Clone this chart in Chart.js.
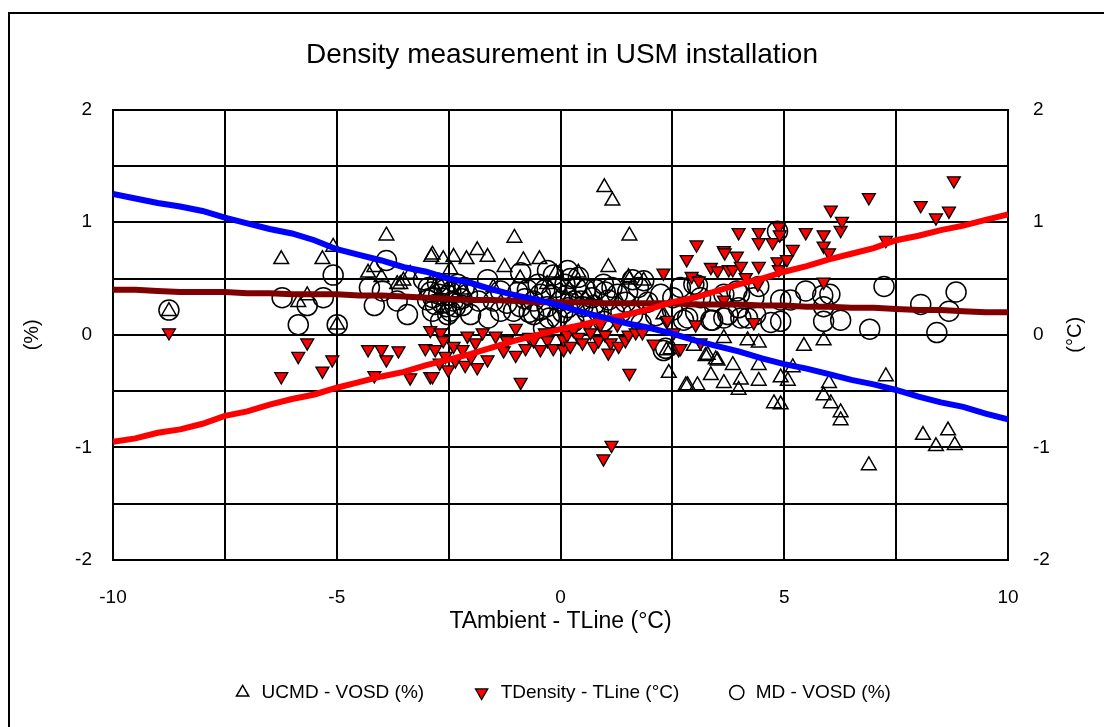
<!DOCTYPE html>
<html>
<head>
<meta charset="utf-8">
<title>Density measurement in USM installation</title>
<script src="https://cdn.jsdelivr.net/npm/chart.js@4.4.1/dist/chart.umd.min.js"></script>
<style>
  html, body { margin: 0; padding: 0; background: #fff; }
  #wrap { width: 1104px; height: 727px; }
</style>
</head>
<body>
<div id="wrap"><canvas id="chart"></canvas></div>
<script>
// ── DATA ──────────────────────────────────────────────────
const chartTitle = 'Density measurement in USM installation';
const xTitle = 'TAmbient - TLine (°C)';
const yTitle = '(%)';
const y2Title = '(°C)';
const seriesNames = ['UCMD - VOSD (%)', 'TDensity - TLine (°C)', 'MD - VOSD (%)'];

// UCMD - VOSD (%)  (open triangles)
const ucmdPoints = [
  [-8.75, 0.21], [-6.24, 0.67], [-5.86, 0.29], [-5.66, 0.35], [-5.32, 0.67], [-5.08, 0.78],
  [-4.99, 0.09], [-4.30, 0.55], [-4.16, 0.60], [-4.00, 0.51], [-3.89, 0.88], [-3.65, 0.45],
  [-3.58, 0.45], [-3.36, 0.54], [-3.51, 0.48], [-2.89, 0.69], [-2.86, 0.71], [-2.62, 0.67],
  [-2.46, 0.58], [-2.39, 0.69], [-2.10, 0.67], [-1.86, 0.75], [-1.63, 0.69], [-1.25, 0.60],
  [-1.03, 0.86], [-0.83, 0.66], [-0.47, 0.67], [-2.70, 0.45], [-2.20, 0.40], [-1.50, 0.42],
  [-0.90, 0.50], [-0.30, 0.45], [-0.10, 0.55], [0.20, 0.40], [0.40, 0.55], [0.60, 0.35],
  [0.98, 1.31], [1.16, 1.19], [1.54, 0.88], [1.07, 0.60], [1.52, 0.51], [1.30, 0.30],
  [1.54, 0.49], [1.86, 0.48], [2.00, 0.28], [2.30, 0.18],
  [2.37, -0.14], [2.42, -0.34], [2.46, -0.13], [2.80, -0.45], [2.84, -0.45], [2.98, -0.10],
  [3.06, -0.45], [3.24, -0.19], [3.29, -0.18], [3.36, -0.36], [3.47, -0.22], [3.51, -0.23],
  [3.65, -0.43], [3.65, -0.03], [3.85, -0.27], [3.98, -0.49], [4.03, -0.40], [4.18, -0.05],
  [4.43, -0.07], [4.43, -0.27], [4.43, -0.41], [4.77, -0.61], [4.92, -0.62], [4.92, -0.38],
  [5.08, -0.41], [5.19, -0.29], [5.44, -0.10], [5.88, -0.05], [5.88, -0.54], [6.00, -0.43],
  [6.04, -0.61], [6.26, -0.69], [6.26, -0.76], [6.89, -1.16], [7.27, -0.37], [8.10, -0.89],
  [8.39, -0.99], [8.66, -0.85], [8.81, -0.98]
];

// TDensity - TLine (°C)  (red inverted triangles)
const tdensityPoints = [
  [-8.75, 0.02], [-6.24, -0.37], [-5.86, -0.19], [-5.66, -0.07], [-5.32, -0.32], [-5.10, -0.22],
  [-4.30, -0.13], [-4.16, -0.36], [-4.00, -0.13], [-3.89, -0.22], [-3.62, -0.14], [-3.36, -0.38],
  [-3.02, -0.12], [-2.91, -0.37], [-2.91, 0.04], [-2.86, -0.37], [-2.80, -0.13], [-2.70, -0.25],
  [-2.68, 0.02], [-2.62, -0.05], [-2.57, -0.19], [-2.51, -0.31], [-2.39, -0.10], [-2.35, -0.23],
  [-2.19, -0.13], [-2.13, -0.27], [-2.08, -0.01], [-2.00, -0.20], [-1.90, -0.07], [-1.86, -0.29],
  [-1.74, 0.02], [-1.63, -0.22], [-1.45, -0.01], [-1.27, -0.14], [-1.20, -0.05], [-1.00, -0.18],
  [-1.00, 0.06], [-0.89, -0.42], [-0.78, -0.12], [-0.70, -0.02], [-0.60, -0.05], [-0.45, -0.13],
  [-0.35, 0.02], [-0.29, -0.05], [-0.16, -0.12], [0.07, -0.13], [0.07, -0.04], [0.15, 0.00],
  [0.22, -0.10], [0.29, 0.04], [0.40, -0.02], [0.49, -0.07], [0.60, 0.08], [0.67, 0.02],
  [0.75, -0.10], [0.85, -0.05], [0.89, 0.09], [0.96, -1.10], [1.00, 0.00], [1.14, -0.98],
  [1.07, -0.16], [1.12, -0.07], [1.27, 0.09], [1.30, -0.10], [1.45, -0.05], [1.52, 0.00],
  [1.54, -0.34], [1.68, 0.02], [1.83, 0.02], [2.08, -0.08], [2.37, 0.12], [2.39, 0.13],
  [2.53, 0.02], [2.64, -0.13], [2.68, -0.12], [3.02, 0.09], [3.13, -0.07], [2.30, 0.55],
  [2.82, 0.67], [2.93, 0.52], [3.04, 0.80], [3.09, 0.48], [3.36, 0.60], [3.51, 0.57],
  [3.65, 0.75], [3.65, 0.31], [3.67, 0.73], [3.76, 0.58], [3.85, 0.58], [3.94, 0.70],
  [3.98, 0.91], [4.03, 0.61], [4.14, 0.51], [4.32, 0.11], [4.41, 0.45], [4.43, 0.91],
  [4.43, 0.82], [4.43, 0.61], [4.74, 0.82], [4.85, 0.65], [4.88, 0.96], [4.90, 0.89],
  [4.88, 0.58], [5.06, 0.67], [5.19, 0.76], [5.48, 0.91], [5.88, 0.89], [5.88, 0.79],
  [5.88, 0.47], [6.00, 0.73], [6.04, 1.11], [6.26, 0.93], [6.29, 1.01], [6.89, 1.22],
  [7.27, 0.84], [8.05, 1.15], [8.39, 1.04], [8.68, 1.10], [8.79, 1.37]
];

// MD - VOSD (%)  (open circles)
const mdPoints = [
  [-8.75, 0.22], [-6.22, 0.33], [-5.86, 0.09], [-5.66, 0.26], [-5.30, 0.33], [-5.08, 0.53],
  [-4.99, 0.09], [-4.27, 0.42], [-4.16, 0.26], [-3.98, 0.39], [-3.89, 0.66], [-3.65, 0.30],
  [-3.42, 0.18], [-3.06, 0.49], [-2.97, 0.31], [-2.95, 0.42], [-2.90, 0.38], [-2.86, 0.21],
  [-2.85, 0.33], [-2.80, 0.27], [-2.75, 0.46], [-2.72, 0.36], [-2.68, 0.12], [-2.65, 0.28],
  [-2.60, 0.40], [-2.58, 0.44], [-2.55, 0.25], [-2.52, 0.18], [-2.51, 0.35], [-2.46, 0.21],
  [-2.45, 0.38], [-2.40, 0.30], [-2.35, 0.25], [-2.30, 0.45], [-2.28, 0.38], [-2.20, 0.32],
  [-2.19, 0.26], [-2.15, 0.42], [-2.08, 0.36], [-2.01, 0.18], [-1.83, 0.30], [-1.63, 0.49],
  [-1.61, 0.15], [-1.50, 0.30], [-1.34, 0.39], [-1.34, 0.21], [-1.20, 0.28], [-1.05, 0.21],
  [-0.95, 0.38], [-0.90, 0.25], [-0.89, 0.55], [-0.80, 0.32], [-0.74, 0.40], [-0.70, 0.20],
  [-0.60, 0.18], [-0.60, 0.30], [-0.50, 0.45], [-0.45, 0.36], [-0.45, 0.22], [-0.38, 0.06],
  [-0.35, 0.40], [-0.30, 0.25], [-0.29, 0.57], [-0.25, 0.15], [-0.20, 0.35], [-0.16, 0.53],
  [-0.10, 0.42], [-0.07, 0.15], [0.00, 0.30], [0.05, 0.20], [0.10, 0.45], [0.12, 0.35],
  [0.16, 0.57], [0.16, 0.24], [0.22, 0.50], [0.30, 0.30], [0.30, 0.12], [0.35, 0.42],
  [0.40, 0.51], [0.45, 0.30], [0.50, 0.25], [0.56, 0.40], [0.60, 0.20], [0.70, 0.33],
  [0.74, 0.26], [0.80, 0.40], [0.85, 0.20], [0.96, 0.45], [0.96, 0.12], [1.00, 0.38],
  [1.07, 0.31], [1.15, 0.42], [1.20, 0.20], [1.27, 0.36], [1.35, 0.20], [1.45, 0.29],
  [1.50, 0.38], [1.61, 0.49], [1.61, 0.18], [1.74, 0.42], [1.80, 0.10], [1.86, 0.48],
  [1.95, 0.29], [2.13, 0.17], [2.24, 0.36], [2.30, -0.14], [2.35, -0.12], [2.50, 0.22],
  [2.51, 0.33], [2.68, 0.42], [2.75, 0.13], [2.84, 0.15], [2.98, 0.45], [3.02, 0.20],
  [3.06, 0.44], [3.13, 0.33], [3.36, 0.13], [3.40, 0.13], [3.42, 0.30], [3.65, 0.36],
  [3.65, 0.15], [3.74, 0.18], [3.94, 0.39], [3.98, 0.24], [4.00, 0.36], [4.03, 0.15],
  [4.18, 0.15], [4.32, 0.33], [4.36, 0.18], [4.43, 0.43], [4.70, 0.11], [4.85, 0.92],
  [4.92, 0.12], [4.92, 0.31], [5.14, 0.31], [5.48, 0.39], [5.86, 0.35], [5.88, 0.25],
  [5.88, 0.12], [6.02, 0.36], [6.26, 0.13], [6.91, 0.05], [7.23, 0.43], [8.05, 0.27],
  [8.41, 0.02], [8.68, 0.21], [8.84, 0.38]
];

// trend lines, read every 0.5 °C
const lineX = [
  -10, -9.5, -9, -8.5, -8, -7.5, -7, -6.5, -6, -5.5, -5, -4.5, -4, -3.5, -3, -2.5, -2, -1.5, -1, -0.5,
  0, 0.5, 1, 1.5, 2, 2.5, 3, 3.5, 4, 4.5, 5, 5.5, 6, 6.5, 7, 7.5, 8, 8.5, 9, 9.5, 10
];
const blueLine = [
  1.25, 1.21, 1.17, 1.14, 1.10, 1.04, 0.99, 0.94, 0.90, 0.84, 0.76, 0.71, 0.66, 0.60, 0.56, 0.50,
  0.46, 0.40, 0.35, 0.31, 0.26, 0.20, 0.15, 0.10, 0.06, 0.01, -0.05, -0.10, -0.15, -0.21, -0.26,
  -0.30, -0.35, -0.40, -0.44, -0.49, -0.55, -0.60, -0.64, -0.70, -0.75
];
const redLine = [
  -0.95, -0.92, -0.87, -0.84, -0.79, -0.72, -0.68, -0.62, -0.57, -0.53, -0.47, -0.42, -0.37, -0.33,
  -0.27, -0.22, -0.17, -0.11, -0.05, 0.00, 0.05, 0.09, 0.14, 0.18, 0.23, 0.29, 0.33, 0.39, 0.45,
  0.50, 0.56, 0.61, 0.67, 0.72, 0.77, 0.84, 0.88, 0.93, 0.97, 1.02, 1.07
];
const darkRedLine = [
  0.40, 0.40, 0.39, 0.38, 0.38, 0.38, 0.37, 0.37, 0.36, 0.36, 0.36, 0.35, 0.35, 0.34, 0.33, 0.32,
  0.31, 0.31, 0.30, 0.29, 0.29, 0.29, 0.28, 0.28, 0.28, 0.28, 0.27, 0.27, 0.27, 0.26, 0.26, 0.25,
  0.25, 0.24, 0.24, 0.23, 0.22, 0.22, 0.21, 0.20, 0.20
];

// ── HELPERS ───────────────────────────────────────────────
const FONT = 'Liberation Sans, Arial, sans-serif';
const toXY = pts => pts.map(([x, y]) => ({ x, y }));
const lineXY = vals => lineX.map((x, i) => ({ x, y: vals[i] }));

// outer frame + right axis title (Excel style, reads bottom to top)
const framePlugin = {
  id: 'frame',
  beforeDraw(chart) {
    const { ctx } = chart;
    ctx.save();
    ctx.fillStyle = '#fff';
    ctx.fillRect(0, 0, chart.width, chart.height);
    ctx.strokeStyle = '#000';
    ctx.lineWidth = 2;
    ctx.strokeRect(9, 13, chart.width + 20, chart.height + 20);
    ctx.restore();
  },
  afterDraw(chart) {
    const { ctx, chartArea } = chart;
    ctx.save();
    ctx.translate(1075, (chartArea.top + chartArea.bottom) / 2);
    ctx.rotate(-Math.PI / 2);
    ctx.fillStyle = '#000';
    ctx.font = `20px ${FONT}`;
    ctx.textAlign = 'center';
    ctx.textBaseline = 'middle';
    ctx.fillText(y2Title, 0, 0);
    ctx.restore();
  }
};

const yTickLabel = v => Number.isInteger(v) ? v : '';
const xTickLabel = v => (v % 5 === 0) ? v : '';

// ── CHART ─────────────────────────────────────────────────
new Chart(document.getElementById('chart'), {
  type: 'scatter',
  data: {
    datasets: [
      {
        label: seriesNames[0],
        data: toXY(ucmdPoints),
        pointStyle: 'triangle',
        pointRadius: 8.5,
        backgroundColor: 'rgba(0,0,0,0)',
        borderColor: '#000',
        borderWidth: 1.5,
        order: 3
      },
      {
        label: seriesNames[1],
        data: toXY(tdensityPoints),
        pointStyle: 'triangle',
        rotation: 180,
        pointRadius: 7.5,
        backgroundColor: '#FF0000',
        borderColor: '#000',
        borderWidth: 1.3,
        order: 2
      },
      {
        label: seriesNames[2],
        data: toXY(mdPoints),
        pointStyle: 'circle',
        pointRadius: 10,
        backgroundColor: 'rgba(0,0,0,0)',
        borderColor: '#000',
        borderWidth: 1.5,
        order: 4
      },
      {
        label: 'blue',
        data: lineXY(blueLine),
        showLine: true,
        pointRadius: 0,
        borderColor: '#0000FF',
        borderWidth: 6,
        order: 1
      },
      {
        label: 'red',
        data: lineXY(redLine),
        showLine: true,
        pointRadius: 0,
        borderColor: '#FF0000',
        borderWidth: 6,
        order: 1
      },
      {
        label: 'darkred',
        data: lineXY(darkRedLine),
        showLine: true,
        pointRadius: 0,
        borderColor: '#800000',
        borderWidth: 6,
        order: 1
      }
    ]
  },
  options: {
    responsive: true,
    maintainAspectRatio: false,
    animation: false,
    layout: { padding: { left: 20, right: 0, top: 0, bottom: 15 } },
    plugins: {
      title: {
        display: true,
        text: chartTitle,
        color: '#000',
        font: { family: FONT, size: 28, weight: 'normal' },
        padding: { top: 38, bottom: 38 }
      },
      legend: {
        position: 'bottom',
        labels: {
          color: '#000',
          font: { family: FONT, size: 19 },
          usePointStyle: true,
          boxWidth: 19,
          boxHeight: 10,
          padding: 48,
          filter: item => item.datasetIndex < 3,
          sort: (a, b) => a.datasetIndex - b.datasetIndex
        }
      },
      tooltip: { enabled: false }
    },
    scales: {
      x: {
        type: 'linear',
        min: -10,
        max: 10,
        ticks: { stepSize: 2.5, callback: xTickLabel, color: '#000', font: { family: FONT, size: 19 }, padding: 26, maxRotation: 0 },
        grid: { color: '#000', lineWidth: 2, drawTicks: false },
        border: { color: '#000', width: 2 },
        title: { display: true, text: xTitle, color: '#000', font: { family: FONT, size: 23 }, padding: { top: 0, bottom: 0 } },
        afterFit: s => { s.height = 75; }
      },
      y: {
        position: 'left',
        min: -2,
        max: 2,
        ticks: { stepSize: 0.5, callback: yTickLabel, color: '#000', font: { family: FONT, size: 19 }, padding: 21 },
        grid: { color: '#000', lineWidth: 2, drawTicks: false },
        border: { color: '#000', width: 2 },
        title: { display: true, text: yTitle, color: '#000', font: { family: FONT, size: 20 }, padding: { top: 0 } },
        afterFit: s => { s.width = 93; }
      },
      y2: {
        position: 'right',
        min: -2,
        max: 2,
        ticks: { stepSize: 0.5, callback: yTickLabel, color: '#000', font: { family: FONT, size: 19 }, padding: 25 },
        grid: { display: false, drawTicks: false },
        border: { color: '#000', width: 2 },
        afterFit: s => { s.width = 96; }
      }
    }
  },
  plugins: [framePlugin]
});
</script>
</body>
</html>
